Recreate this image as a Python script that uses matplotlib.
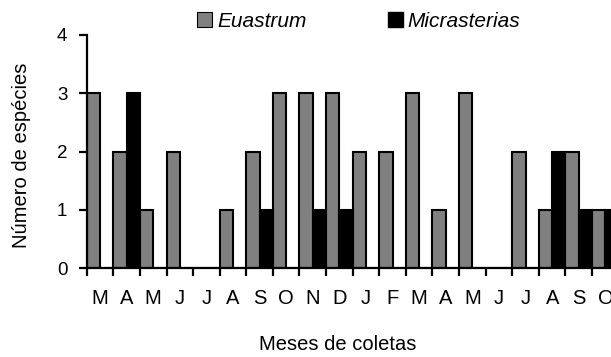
import numpy as np
import matplotlib
matplotlib.use('Agg')
import matplotlib.pyplot as plt
from matplotlib.patches import Patch

plt.rcParams['font.family'] = ['Liberation Sans', 'DejaVu Sans']

months = ['M', 'A', 'M', 'J', 'J', 'A', 'S', 'O', 'N', 'D',
          'J', 'F', 'M', 'A', 'M', 'J', 'J', 'A', 'S', 'O']
euastrum = [3, 2, 1, 2, 0, 1, 2, 3, 3, 3, 2, 2, 3, 1, 3, 0, 2, 1, 2, 1]
micrasterias = [0, 3, 0, 0, 0, 0, 1, 0, 1, 1, 0, 0, 0, 0, 0, 0, 0, 2, 1, 1]
yticks = [0, 1, 2, 3, 4]

fig = plt.figure(figsize=(6.11, 3.57), dpi=100)
ax = fig.add_axes([0.1419, 0.2485, 0.8707, 0.6535])

x = np.arange(len(months))
ax.bar(x + 0.25, euastrum, width=0.5, color='#808080', edgecolor='black',
       linewidth=1.5, zorder=2)
ax.bar(x + 0.75, micrasterias, width=0.5, color='black', edgecolor='black',
       linewidth=1.5, zorder=2)

ax.set_xlim(0, len(months))
ax.set_ylim(0, 4)
ax.set_yticks(yticks)
ax.set_xticks(np.arange(len(months) + 1))
ax.set_xticklabels([])
ax.set_xticks(x + 0.5, minor=True)
ax.set_xticklabels(months, minor=True, fontsize=14.5)

for s in ['top', 'right']:
    ax.spines[s].set_visible(False)
for s in ['left', 'bottom']:
    ax.spines[s].set_linewidth(1.6)
    ax.spines[s].set_zorder(5)

ax.tick_params(axis='both', which='major', direction='out', length=6,
               width=1.6, labelsize=13.5)
ax.tick_params(axis='y', pad=8)
ax.tick_params(axis='x', which='minor', length=0, pad=15)

fig.text(0.036, 0.564, 'Número de espécies', rotation=90, fontsize=14.5,
         ha='center', va='center')
fig.text(0.552, 0.036, 'Meses de coletas', fontsize=14.5,
         ha='center', va='center')

handles = [Patch(facecolor='#808080', edgecolor='black', linewidth=0.8),
           Patch(facecolor='black', edgecolor='black')]
fig.legend(handles, ['Euastrum', 'Micrasterias'], loc='center',
           bbox_to_anchor=(0.587, 0.941), ncol=2, frameon=False,
           prop={'style': 'italic', 'size': 15}, handlelength=0.72,
           handleheight=0.72, handletextpad=0.24, columnspacing=3.9)

fig.savefig('out.png', dpi=100)
